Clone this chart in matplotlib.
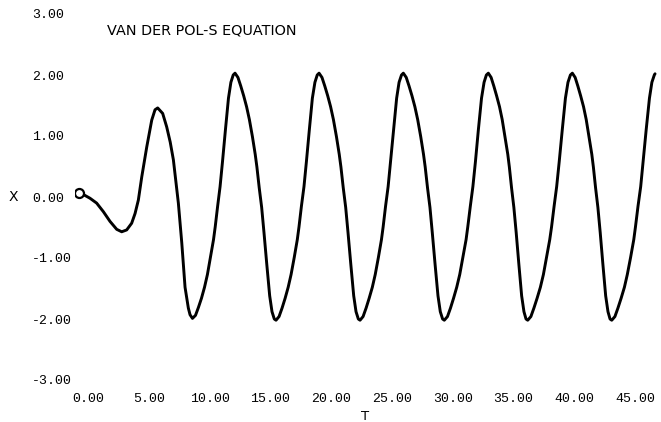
import matplotlib.pyplot as plt
import matplotlib.transforms as mtransforms

# time values (start, transient, then limit cycles)
t_vals = [
    0.00, 0.45, 0.90, 1.45, 2.00, 2.55, 3.10, 3.51, 3.92, 4.33, 4.61, 4.88, 5.16,
    5.57, 5.98, 6.25, 6.47, 6.88, 7.21, 7.50, 7.76, 8.17, 8.45, 8.72, 8.99, 9.13,
    9.33, 9.58, 9.82, 10.07, 10.32, 10.56, 10.81, 11.06, 11.20, 11.40, 11.60, 11.80, 12.04, 12.29, 12.49, 12.68,
    12.83, 13.07, 13.30, 13.54, 13.78, 14.01, 14.26, 14.49, 14.63, 14.82, 15.02, 15.21, 15.44, 15.68, 15.87, 16.06,
    16.20, 16.45, 16.70, 16.95, 17.20, 17.44, 17.70, 17.95, 18.09, 18.29, 18.50, 18.70, 18.94, 19.19, 19.40, 19.59,
    19.74, 19.98, 20.21, 20.45, 20.69, 20.92, 21.17, 21.40, 21.54, 21.73, 21.93, 22.12, 22.35, 22.59, 22.78, 22.97,
    23.11, 23.36, 23.61, 23.86, 24.12, 24.36, 24.62, 24.87, 25.01, 25.21, 25.42, 25.62, 25.87, 26.12, 26.32, 26.52,
    26.67, 26.91, 27.14, 27.38, 27.62, 27.85, 28.10, 28.33, 28.47, 28.66, 28.86, 29.05, 29.28, 29.52, 29.71, 29.90,
    30.04, 30.30, 30.55, 30.80, 31.06, 31.31, 31.57, 31.83, 31.97, 32.18, 32.39, 32.60, 32.84, 33.10, 33.31, 33.50,
    33.66, 33.89, 34.11, 34.34, 34.58, 34.80, 35.03, 35.26, 35.39, 35.57, 35.76, 35.95, 36.17, 36.40, 36.59, 36.76,
    36.90, 37.16, 37.41, 37.67, 37.94, 38.19, 38.45, 38.71, 38.86, 39.07, 39.28, 39.49, 39.74, 40.00, 40.21, 40.41,
    40.57, 40.80, 41.02, 41.25, 41.49, 41.71, 41.94, 42.17, 42.30, 42.48, 42.67, 42.86, 43.08, 43.31, 43.50, 43.67,
    43.81, 44.07, 44.32, 44.58, 44.85, 45.09, 45.36, 45.62, 45.76, 45.97, 46.19, 46.39, 46.64, 46.91, 47.11, 47.31, 47.37,
]

x_vals = [
    0.06, 0.03, -0.02, -0.10, -0.24, -0.40, -0.53, -0.57, -0.54, -0.43, -0.27, -0.05, 0.33,
    0.82, 1.26, 1.43, 1.46, 1.37, 1.15, 0.90, 0.61, -0.10, -0.75, -1.48, -1.82, -1.93,
    -1.99, -1.94, -1.81, -1.66, -1.48, -1.27, -0.99, -0.70, -0.49, -0.15, 0.17, 0.58, 1.10, 1.62, 1.88, 2.00,
    2.03, 1.96, 1.82, 1.66, 1.48, 1.27, 0.99, 0.70, 0.49, 0.15, -0.17, -0.58, -1.10, -1.62, -1.88, -2.00,
    -2.02, -1.96, -1.82, -1.66, -1.48, -1.27, -0.99, -0.70, -0.49, -0.15, 0.17, 0.58, 1.10, 1.62, 1.88, 2.00,
    2.03, 1.96, 1.82, 1.66, 1.48, 1.27, 0.99, 0.70, 0.49, 0.15, -0.17, -0.58, -1.10, -1.62, -1.88, -2.00,
    -2.02, -1.96, -1.82, -1.66, -1.48, -1.27, -0.99, -0.70, -0.49, -0.15, 0.17, 0.58, 1.10, 1.62, 1.88, 2.00,
    2.03, 1.96, 1.82, 1.66, 1.48, 1.27, 0.99, 0.70, 0.49, 0.15, -0.17, -0.58, -1.10, -1.62, -1.88, -2.00,
    -2.02, -1.96, -1.82, -1.66, -1.48, -1.27, -0.99, -0.70, -0.49, -0.15, 0.17, 0.58, 1.10, 1.62, 1.88, 2.00,
    2.03, 1.96, 1.82, 1.66, 1.48, 1.27, 0.99, 0.70, 0.49, 0.15, -0.17, -0.58, -1.10, -1.62, -1.88, -2.00,
    -2.02, -1.96, -1.82, -1.66, -1.48, -1.27, -0.99, -0.70, -0.49, -0.15, 0.17, 0.58, 1.10, 1.62, 1.88, 2.00,
    2.03, 1.96, 1.82, 1.66, 1.48, 1.27, 0.99, 0.70, 0.49, 0.15, -0.17, -0.58, -1.10, -1.62, -1.88, -2.00,
    -2.02, -1.96, -1.82, -1.66, -1.48, -1.27, -0.99, -0.70, -0.49, -0.15, 0.17, 0.58, 1.10, 1.62, 1.88, 2.00, 2.02,
]

x_ticks = [0, 5, 10, 15, 20, 25, 30, 35, 40, 45]
x_labels = ["0.00", "5.00", "10.00", "15.00", "20.00", "25.00", "30.00", "35.00", "40.00", "45.00"]
y_ticks = [-3, -2, -1, 0, 1, 2, 3]
y_labels = ["-3.00", "-2.00", "-1.00", "0.00", "1.00", "2.00", "3.00"]

W, H = 661, 422
fig = plt.figure(figsize=(W / 100, H / 100), dpi=100)
ax = fig.add_axes([75 / W, 1 - 380 / H, (W - 75) / W, (380 - 14) / H])

ax.plot(t_vals, x_vals, color="black", lw=2.1,
        solid_capstyle="round", solid_joinstyle="round")
ax.plot(t_vals[0], x_vals[0], "o", mfc="white", mec="black", ms=6.5, mew=1.6)

ax.set_xlim(-0.33, 47.86)
ax.set_ylim(-3, 3)
for s in ax.spines.values():
    s.set_visible(False)

tick_font = dict(fontfamily=["Liberation Mono", "DejaVu Sans Mono"], fontsize=9.5)
ax.set_xticks(x_ticks, x_labels, **tick_font)
ax.set_yticks(y_ticks, y_labels, **tick_font)
ax.tick_params(length=0)
ax.tick_params(axis="x", pad=9)
ax.tick_params(axis="y", pad=31)
for lab in ax.get_yticklabels():
    lab.set_ha("left")
shift = mtransforms.ScaledTranslation(9 / 100, 0, fig.dpi_scale_trans)
for lab in ax.get_xticklabels():
    lab.set_transform(lab.get_transform() + shift)

fig.text(107 / W, 1 - 30 / H, "VAN DER POL-S EQUATION", fontsize=10.4,
         family="DejaVu Sans", va="center", ha="left")
fig.text(13 / W, 1 - 197 / H, "X", fontsize=10, family="DejaVu Sans",
         ha="center", va="center")
fig.text(365 / W, 1 - 417 / H, "T", fontsize=9.5, family="DejaVu Sans",
         ha="center", va="center")

fig.savefig("out.png", dpi=100)
plt.close(fig)
